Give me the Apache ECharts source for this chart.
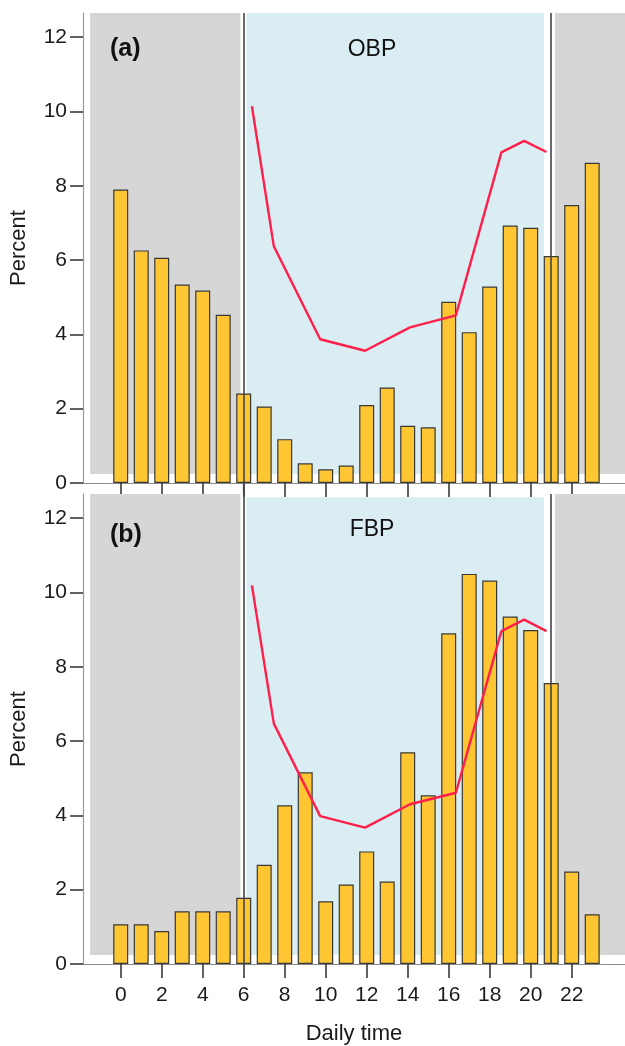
<!DOCTYPE html>
<html>
<head>
<meta charset="utf-8">
<script src="https://cdn.jsdelivr.net/npm/echarts@6/dist/echarts.min.js"></script>
<style>
  html, body { margin: 0; padding: 0; background: #fff; }
  #chart { width: 625px; height: 1046px; }
</style>
</head>
<body>
<div id="chart"></div>
<script>
// hourly share of events, percent
const hours = [0, 1, 2, 3, 4, 5, 6, 7, 8, 9, 10, 11, 12, 13, 14, 15, 16, 17, 18, 19, 20, 21, 22, 23];
const obpPct = [7.9, 6.26, 6.06, 5.34, 5.18, 4.53, 2.41, 2.06, 1.18, 0.53, 0.37, 0.47, 2.10, 2.57, 1.54, 1.50, 4.88, 4.06, 5.29, 6.93, 6.87, 6.11, 7.48, 8.62];
const fbpPct = [1.07, 1.07, 0.89, 1.42, 1.42, 1.42, 1.78, 2.67, 4.27, 5.16, 1.69, 2.14, 3.03, 2.22, 5.70, 4.54, 8.90, 10.50, 10.32, 9.35, 8.99, 7.56, 2.49, 1.34];

// red reference curve
const curveHours = [6.4, 7.47, 9.73, 11.92, 14.11, 16.35, 18.57, 19.68, 20.77];
const obpCurve = [10.14, 6.37, 3.87, 3.56, 4.19, 4.51, 8.90, 9.21, 8.91];
const fbpCurve = [10.19, 6.47, 3.98, 3.67, 4.30, 4.61, 8.96, 9.27, 8.96];

// axes
const xTicks = [0, 2, 4, 6, 8, 10, 12, 14, 16, 18, 20, 22];
const yTicks = [0, 2, 4, 6, 8, 10, 12];
const dayStart = 6;
const dayEnd = 21;

const FONT = '"Liberation Sans", Arial, sans-serif';
const X_MIN = -1.84, X_MAX = 24.6, Y_MAX = 12.65;

function pairs(xs, ys) {
    return xs.map((x, i) => [x, ys[i]]);
}

function xAxisOf(gridIndex, withLabels) {
    return {
        type: 'value',
        gridIndex: gridIndex,
        min: X_MIN,
        max: X_MAX,
        splitLine: { show: false },
        axisLine: { onZero: false, lineStyle: { color: '#8a8a8a', width: 1.2 } },
        axisTick: {
            customValues: xTicks,
            length: 14,
            lineStyle: { color: '#3a3a3a', width: 1.6 }
        },
        axisLabel: {
            show: withLabels,
            customValues: xTicks,
            margin: 21,
            fontSize: 21,
            fontFamily: FONT,
            color: '#1a1a1a'
        },
        name: withLabels ? 'Daily time' : '',
        nameLocation: 'middle',
        nameGap: 59,
        nameTextStyle: { fontSize: 22, fontFamily: FONT, color: '#1a1a1a' }
    };
}

function yAxisOf(gridIndex) {
    return {
        type: 'value',
        gridIndex: gridIndex,
        min: 0,
        max: Y_MAX,
        splitLine: { show: false },
        axisLine: { show: true, onZero: false, lineStyle: { color: '#9a9a9a', width: 1.2 } },
        axisTick: {
            show: true,
            customValues: yTicks,
            length: 13,
            lineStyle: { color: '#3a3a3a', width: 1.6 }
        },
        axisLabel: {
            customValues: yTicks,
            margin: 16,
            fontSize: 21,
            fontFamily: FONT,
            color: '#1a1a1a'
        },
        name: 'Percent',
        nameLocation: 'middle',
        nameRotate: 90,
        nameGap: 53,
        nameTextStyle: { fontSize: 22, fontFamily: FONT, color: '#1a1a1a' }
    };
}

// background bands: night (grey) and day (blue)
function bands(blueTop) {
    return {
        silent: true,
        data: [
            [{ xAxis: -1.49, yAxis: 0.24, itemStyle: { color: '#d6d6d6' } }, { xAxis: 5.84, yAxis: Y_MAX }],
            [{ xAxis: 6.13, yAxis: 0.24, itemStyle: { color: '#daedf3' } }, { xAxis: 20.65, yAxis: blueTop }],
            [{ xAxis: 21.19, yAxis: 0.24, itemStyle: { color: '#d6d6d6' } }, { xAxis: X_MAX, yAxis: Y_MAX }]
        ]
    };
}

function barSeries(idx, values, blueTop) {
    return {
        type: 'bar',
        xAxisIndex: idx,
        yAxisIndex: idx,
        barWidth: 15,
        data: pairs(hours, values),
        itemStyle: { color: '#fec632', borderColor: '#383838', borderWidth: 1.2 },
        markArea: bands(blueTop)
    };
}

function curveSeries(idx, values) {
    return {
        type: 'line',
        xAxisIndex: idx,
        yAxisIndex: idx,
        data: pairs(curveHours, values),
        symbol: 'none',
        z: 6,
        lineStyle: { color: '#ff1f4b', width: 2.4 },
        markLine: {
            silent: true,
            symbol: 'none',
            label: { show: false },
            lineStyle: { color: '#444', width: 1.6, type: 'solid' },
            data: [{ xAxis: dayStart }, { xAxis: dayEnd }]
        }
    };
}

function panelText(x, y, text, font, align) {
    return {
        type: 'text', z: 100, x: x, y: y,
        style: { text: text, font: font, fill: '#111', textAlign: align, textVerticalAlign: 'middle' }
    };
}

const chart = echarts.init(document.getElementById('chart'));
chart.setOption({
    animation: false,
    backgroundColor: '#fff',
    grid: [
        { left: 83, top: 13, width: 542, height: 470 },
        { left: 83, top: 494, width: 542, height: 474 }
    ],
    xAxis: [xAxisOf(0, false), xAxisOf(1, true)],
    yAxis: [yAxisOf(0), yAxisOf(1)],
    series: [
        barSeries(0, obpPct, Y_MAX),
        curveSeries(0, obpCurve),
        barSeries(1, fbpPct, Y_MAX - 0.09),
        curveSeries(1, fbpCurve)
    ]
});

// the 6 h boundary runs on through the gap between the panels
const p0 = chart.convertToPixel({ gridIndex: 0 }, [dayStart, 0]);
const p1 = chart.convertToPixel({ gridIndex: 1 }, [dayStart, Y_MAX]);
chart.setOption({
    graphic: [
        panelText(110, 49, '(a)', 'bold 25px ' + FONT, 'left'),
        panelText(372, 50, 'OBP', '23px ' + FONT, 'center'),
        panelText(110, 535, '(b)', 'bold 25px ' + FONT, 'left'),
        panelText(372, 530, 'FBP', '23px ' + FONT, 'center'),
        {
            type: 'line', z: 100,
            shape: { x1: p0[0], y1: p0[1], x2: p1[0], y2: p1[1] },
            style: { stroke: '#444', lineWidth: 1.6 }
        }
    ]
});
</script>
</body>
</html>
